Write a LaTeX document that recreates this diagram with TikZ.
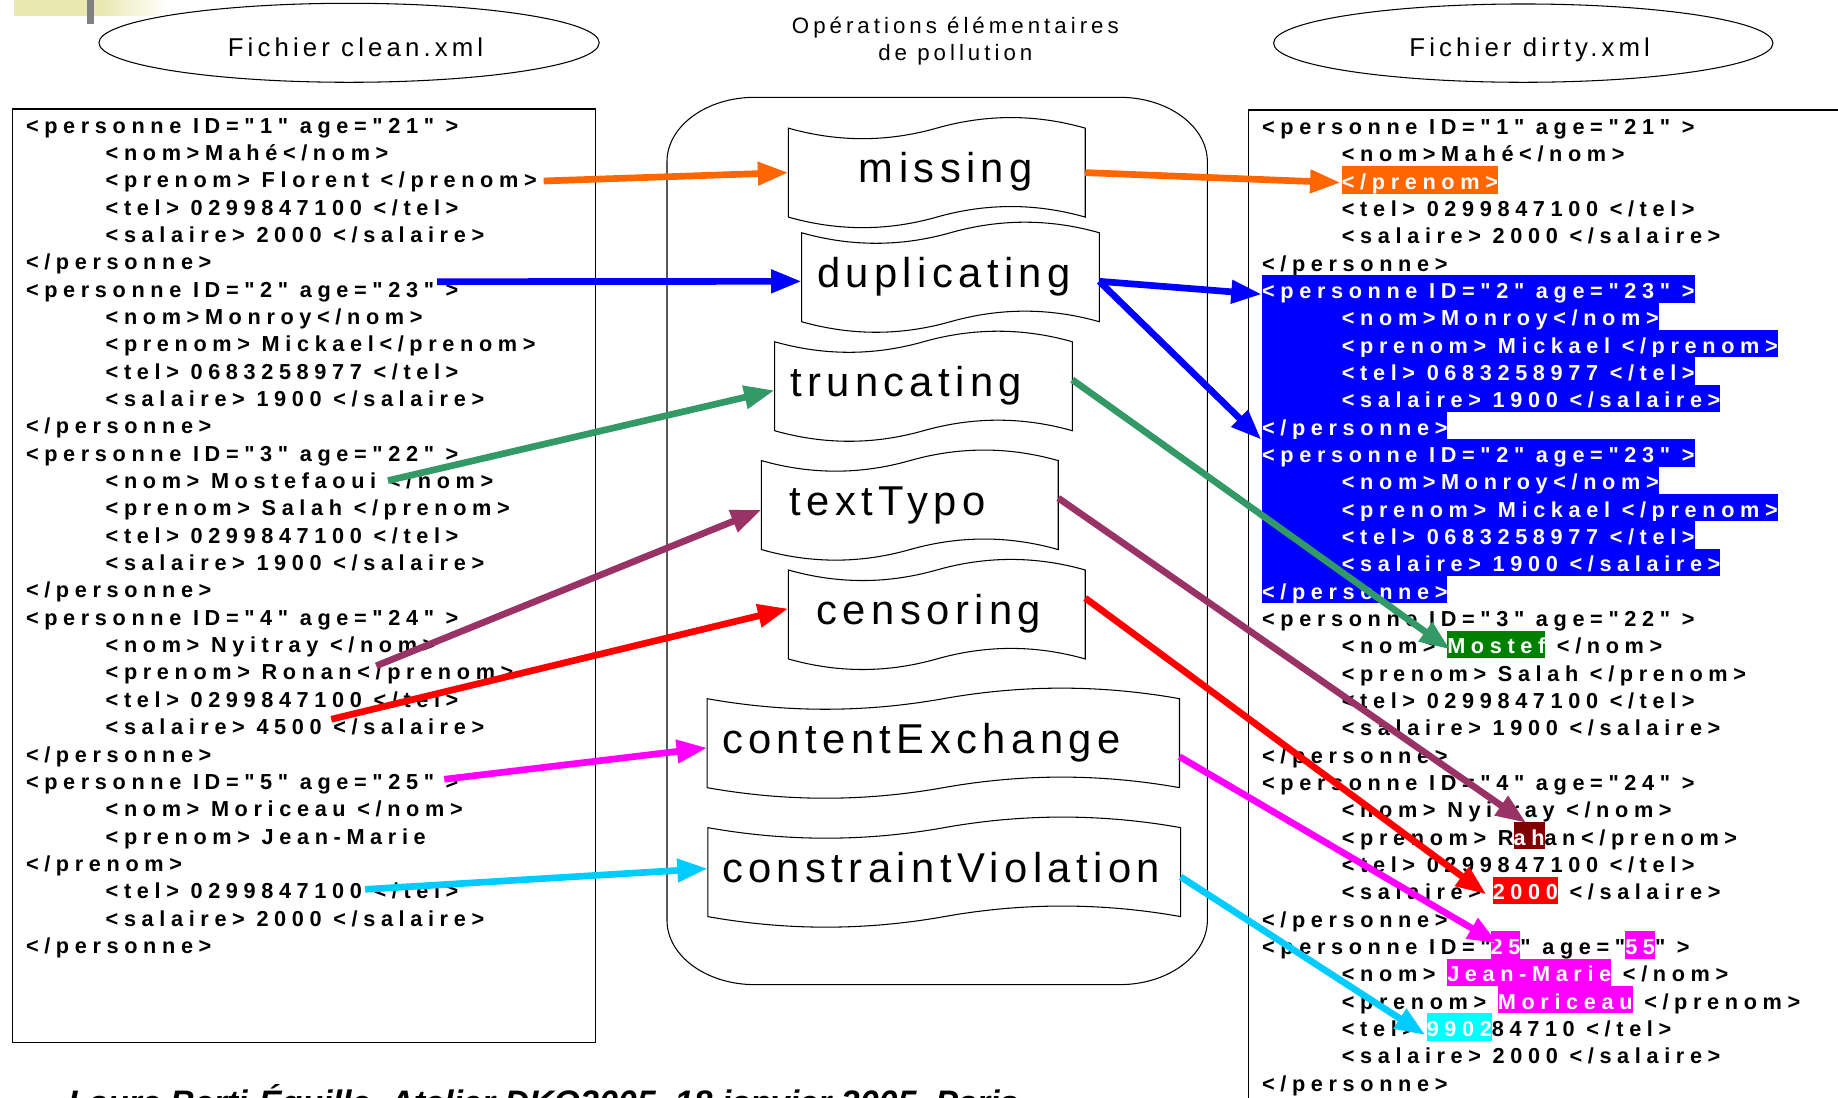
\documentclass[tikz,border=0pt]{standalone}
\usepackage{fontspec}
\setmainfont{Liberation Sans}
\newfontfamily\xmlfont[LetterSpace=26]{Liberation Sans}
\newfontfamily\opfont[LetterSpace=13]{Liberation Sans}
\newfontfamily\ttlfont[LetterSpace=16]{Liberation Sans}
\newfontfamily\ttlfontB[LetterSpace=18]{Liberation Sans}
\usetikzlibrary{arrows.meta,calc,shapes.geometric}
\definecolor{cOrange}{HTML}{FF6600}
\definecolor{cBlue}{HTML}{0000FF}
\definecolor{cGreenA}{HTML}{339966}
\definecolor{cPurple}{HTML}{993366}
\definecolor{cRed}{HTML}{FF0000}
\definecolor{cMag}{HTML}{FF00FF}
\definecolor{cCyanA}{HTML}{00CCFF}
\definecolor{hGreen}{HTML}{008000}
\definecolor{hMaroon}{HTML}{800000}
\definecolor{hCyan}{HTML}{00FFFF}
\definecolor{deco}{RGB}{232,232,176}
\definecolor{decogray}{RGB}{128,128,128}
\newcommand\hlt[2]{{\setlength{\fboxsep}{0pt}\colorbox{#1}{\rule[-3.7pt]{0pt}{23.3pt}\textcolor{white}{#2}}}}
\newcommand\tapeoutline[1]{%
  \draw[tapeedge] let \p1=(#1.north west),\p2=(#1.north east),\p3=(#1.south west),\p4=(#1.south east),\n1={(\x2-\x1)/6} in
   (\p1) .. controls +({\n1*1pt},-12pt) and +({-\n1*1pt},-12pt) .. (#1.north)
   .. controls +({\n1*1pt},12pt) and +({-\n1*1pt},12pt) .. (\p2) -- (\p4)
   .. controls +({-\n1*1pt},12pt) and +({\n1*1pt},12pt) .. (#1.south)
   .. controls +({-\n1*1pt},-12pt) and +({\n1*1pt},-12pt) .. (\p3) -- cycle;}
\begin{document}
\begin{tikzpicture}[x=1pt,y=1pt,
  xl/.style={anchor=base west, inner sep=0pt, font=\xmlfont\bfseries\fontsize{18.5}{22}\selectfont},
  xb/.style={xl, fill=cBlue, text=white, text height=19.6pt, text depth=3.7pt},
  opbox/.style={inner sep=0pt, minimum height=75.5pt, text height=25pt, text depth=8pt, align=left, font=\opfont\fontsize{35.6}{40}\selectfont},
  tapeedge/.style={draw=black, line width=0.9pt},
  frameline/.style={line width=0.9pt},
  boxline/.style={line width=1.1pt},
  titleell/.style={draw, ellipse, line width=0.9pt, inner sep=0pt, font=\ttlfont\fontsize{22}{26}\selectfont},
  optitle/.style={anchor=base, inner sep=0pt, font=\ttlfontB\fontsize{19}{23}\selectfont},
  arr/.style={line width=5.7pt, -{Triangle[length=26pt,width=19pt]}}
]
\useasboundingbox (0,0) rectangle (1568,-936);
% decoration
\fill[deco] (12,0) rectangle (85,-13.6);
\shade[left color=deco,right color=white] (85,0) rectangle (142,-13.6);
\fill[decogray] (74.5,0) rectangle (80,-20.5);
% titles
\node[titleell, minimum width=426.8pt, minimum height=67.4pt, text height=26.6pt, text depth=4pt] (clean) at (297.8,-36.5) {\hspace*{11pt}Fichier clean.xml};
\node[titleell, minimum width=426pt, minimum height=66.8pt, text height=26pt, text depth=4pt] (dirty) at (1299.5,-36.8) {\hspace*{11pt}Fichier dirty.xml};
\node[optitle] (opt1) at (815,-28.4) {Opérations élémentaires};
\node[optitle] (opt2) at (815,-52) {de pollution};
% boxes
\draw[boxline] (10.7,-93) rectangle (508,-889.5);
\begin{scope}
\clip (0,0) rectangle (1568,-936);
\draw[boxline] (1065,-93.8) rectangle (1620,-980);
\end{scope}
% container
\draw[frameline] (569,-138) arc[start angle=180, end angle=90, x radius=75, y radius=55] -- (955,-83)
  arc[start angle=90, end angle=0, x radius=75, y radius=55] -- (1030,-785)
  arc[start angle=0, end angle=-90, x radius=75, y radius=55] -- (644,-840)
  arc[start angle=270, end angle=180, x radius=75, y radius=55] -- cycle;
% operations
\node[opbox, text width=252.9pt] (missing) at (799.15,-147.25) {\hspace*{60pt}missing};
\node[opbox, text width=253.6pt] (dup) at (810.8,-236.5) {\hspace*{13pt}duplicating};
\node[opbox, text width=253.6pt] (trunc) at (787.8,-329.5) {\hspace*{13pt}truncating};
\node[opbox, text width=252.8pt] (typo) at (776.2,-430.9) {\hspace*{24pt}textTypo};
\node[opbox, text width=252.9pt] (cens) at (799.15,-524.2) {\hspace*{24pt}censoring};
\node[opbox, text width=402.5pt] (cx) at (804.75,-634) {\hspace*{12.5pt}contentExchange};
\node[opbox, text width=403pt] (cv) at (805.5,-744) {\hspace*{12pt}constraintViolation};
\foreach \opname in {missing,dup,trunc,typo,cens,cx,cv} {\tapeoutline{\opname}}
% clean file
\node[xl] (L0) at (22,-113.7) {<personne ID="1" age="21" >};
\node[xl] (L1) at (90,-137.02) {<nom>Mahé</nom>};
\node[xl] (L2) at (90,-160.34) {<prenom> Florent </prenom>};
\node[xl] (L3) at (90,-183.66) {<tel> 0299847100 </tel>};
\node[xl] (L4) at (90,-206.98) {<salaire> 2000 </salaire>};
\node[xl] (L5) at (22,-230.3) {</personne>};
\node[xl] (L6) at (22,-253.62) {<personne ID="2" age="23" >};
\node[xl] (L7) at (90,-276.94) {<nom>Monroy</nom>};
\node[xl] (L8) at (90,-300.26) {<prenom> Mickael</prenom>};
\node[xl] (L9) at (90,-323.58) {<tel> 0683258977 </tel>};
\node[xl] (L10) at (90,-346.9) {<salaire> 1900 </salaire>};
\node[xl] (L11) at (22,-370.22) {</personne>};
\node[xl] (L12) at (22,-393.54) {<personne ID="3" age="22" >};
\node[xl] (L13) at (90,-416.86) {<nom> Mostefaoui </nom>};
\node[xl] (L14) at (90,-440.18) {<prenom> Salah </prenom>};
\node[xl] (L15) at (90,-463.5) {<tel> 0299847100 </tel>};
\node[xl] (L16) at (90,-486.82) {<salaire> 1900 </salaire>};
\node[xl] (L17) at (22,-510.14) {</personne>};
\node[xl] (L18) at (22,-533.46) {<personne ID="4" age="24" >};
\node[xl] (L19) at (90,-556.78) {<nom> Nyitray </nom>};
\node[xl] (L20) at (90,-580.1) {<prenom> Ronan</prenom>};
\node[xl] (L21) at (90,-603.42) {<tel> 0299847100 </tel>};
\node[xl] (L22) at (90,-626.74) {<salaire> 4500 </salaire>};
\node[xl] (L23) at (22,-650.06) {</personne>};
\node[xl] (L24) at (22,-673.38) {<personne ID="5" age="25" >};
\node[xl] (L25) at (90,-696.7) {<nom> Moriceau </nom>};
\node[xl] (L26) at (90,-720.02) {<prenom> Jean-Marie};
\node[xl] (L27) at (22,-743.34) {</prenom>};
\node[xl] (L28) at (90,-766.66) {<tel> 0299847100 </tel>};
\node[xl] (L29) at (90,-789.98) {<salaire> 2000 </salaire>};
\node[xl] (L30) at (22,-813.3) {</personne>};
% dirty file
\node[xl] (R0) at (1076.5,-114.6) {<personne ID="1" age="21" >};
\node[xl] (R1) at (1144.6,-137.92) {<nom>Mahé</nom>};
\node[xl] (R2) at (1144.6,-161.24) {\hlt{cOrange}{</prenom>}};
\node[xl] (R3) at (1144.6,-184.56) {<tel> 0299847100 </tel>};
\node[xl] (R4) at (1144.6,-207.88) {<salaire> 2000 </salaire>};
\node[xl] (R5) at (1076.5,-231.2) {</personne>};
\node[xb] (R6) at (1076.5,-254.52) {<personne ID="2" age="23" >};
\node[xb] (R7) at (1076.5,-277.84) {\hspace*{68.1pt}<nom>Monroy</nom>};
\node[xb] (R8) at (1076.5,-301.16) {\hspace*{68.1pt}<prenom> Mickael </prenom>};
\node[xb] (R9) at (1076.5,-324.48) {\hspace*{68.1pt}<tel> 0683258977 </tel>};
\node[xb] (R10) at (1076.5,-347.8) {\hspace*{68.1pt}<salaire> 1900 </salaire>};
\node[xb] (R11) at (1076.5,-371.12) {</personne>};
\node[xb] (R12) at (1076.5,-394.44) {<personne ID="2" age="23" >};
\node[xb] (R13) at (1076.5,-417.76) {\hspace*{68.1pt}<nom>Monroy</nom>};
\node[xb] (R14) at (1076.5,-441.08) {\hspace*{68.1pt}<prenom> Mickael </prenom>};
\node[xb] (R15) at (1076.5,-464.4) {\hspace*{68.1pt}<tel> 0683258977 </tel>};
\node[xb] (R16) at (1076.5,-487.72) {\hspace*{68.1pt}<salaire> 1900 </salaire>};
\node[xb] (R17) at (1076.5,-511.04) {</personne>};
\node[xl] (R18) at (1076.5,-534.36) {<personne ID="3" age="22" >};
\node[xl] (R19) at (1144.6,-557.68) {<nom> \hlt{hGreen}{Mostef} </nom>};
\node[xl] (R20) at (1144.6,-581.0) {<prenom> Salah </prenom>};
\node[xl] (R21) at (1144.6,-604.32) {<tel> 0299847100 </tel>};
\node[xl] (R22) at (1144.6,-627.64) {<salaire> 1900 </salaire>};
\node[xl] (R23) at (1076.5,-650.96) {</personne>};
\node[xl] (R24) at (1076.5,-674.28) {<personne ID="4" age="24" >};
\node[xl] (R25) at (1144.6,-697.6) {<nom> Nyitray </nom>};
\node[xl] (R26) at (1144.6,-720.92) {<prenom> R\hlt{hMaroon}{ah}an</prenom>};
\node[xl] (R27) at (1144.6,-744.24) {<tel> 0299847100 </tel>};
\node[xl] (R28) at (1144.6,-767.56) {<salaire> \hlt{cRed}{2000} </salaire>};
\node[xl] (R29) at (1076.5,-790.88) {</personne>};
\node[xl] (R30) at (1076.5,-814.2) {<personne ID="\hlt{cMag}{25}" age="\hlt{cMag}{55}" >};
\node[xl] (R31) at (1144.6,-837.52) {<nom> \hlt{cMag}{Jean-Marie} </nom>};
\node[xl] (R32) at (1144.6,-860.84) {<prenom> \hlt{cMag}{Moriceau} </prenom>};
\node[xl] (R33) at (1144.6,-884.16) {<tel> \hlt{hCyan}{9902}84710 </tel>};
\node[xl] (R34) at (1144.6,-907.48) {<salaire> 2000 </salaire>};
\node[xl] (R35) at (1076.5,-930.8) {</personne>};
% footer (cut by the lower edge, as in the reference)
\begin{scope}
\clip (0,-880) rectangle (1040,-936);
\node[anchor=base west, inner sep=0pt, font=\bfseries\itshape\fontsize{29}{32}\selectfont] (footer) at (58,-951) {Laure Berti-Équille, Atelier DKQ2005, 18 janvier 2005, Paris};
\end{scope}
% arrow end points
\coordinate (sO) at (463.8,-154.4);
\coordinate (tO) at (1143.6,-155.8);
\coordinate (sB) at (373,-240.3);
\coordinate (tB1) at (1076.4,-251);
\coordinate (tB2) at (1076,-375);
\coordinate (sG) at (331,-410);
\coordinate (tG) at (1237,-554);
\coordinate (sP) at (321,-568);
\coordinate (tP) at (1302,-702);
\coordinate (sR) at (282.6,-613.6);
\coordinate (tR) at (1268,-763);
\coordinate (sM) at (379,-664.8);
\coordinate (tM) at (1278,-805);
\coordinate (sC) at (311.5,-758.7);
\coordinate (tC) at (1216,-883);
% arrows
\draw[arr, cOrange] (sO) -- (missing.west);
\draw[arr, cOrange] (missing.east) -- (tO);
\draw[arr, cBlue] (sB) -- ([yshift=-3.5pt]dup.west);
\draw[arr, cBlue] ([yshift=-3.5pt]dup.east) -- (tB1);
\draw[arr, cBlue] ([yshift=-3.5pt]dup.east) -- (tB2);
\draw[arr, cGreenA] (sG) -- ([yshift=-3.5pt]trunc.west);
\draw[arr, cGreenA] ([yshift=5.5pt]trunc.east) -- (tG);
\draw[arr, cPurple] (sP) -- ([yshift=-4pt]typo.west);
\draw[arr, cPurple] ([yshift=6pt]typo.east) -- (tP);
\draw[arr, cRed] (sR) -- ([yshift=5pt]cens.west);
\draw[arr, cRed] ([yshift=14pt]cens.east) -- (tR);
\draw[arr, cMag] (sM) -- ([yshift=-4pt]cx.west);
\draw[arr, cMag] ([yshift=-11.5pt]cx.east) -- (tM);
\draw[arr, cCyanA] (sC) -- ([yshift=3pt]cv.west);
\draw[arr, cCyanA] ([yshift=-4pt]cv.east) -- (tC);
\end{tikzpicture}
\end{document}
